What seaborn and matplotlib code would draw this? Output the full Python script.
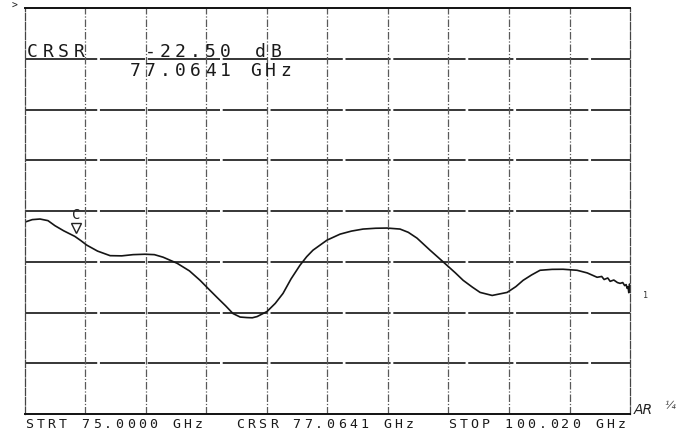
import numpy as np
import matplotlib
matplotlib.use('Agg')
import matplotlib.pyplot as plt
import seaborn as sns

# sweep settings
start_ghz = 75.0
stop_ghz = 100.02
ref_db = 0.0
db_per_div = 5.0
n_xdiv = 10
n_ydiv = 8

cursor_ghz = 77.0641
cursor_db = -22.50

# traced trace (frequency in GHz, magnitude in dB)
freq = [75.00, 75.30, 75.62, 75.95, 76.24, 76.60, 77.06, 77.30, 77.56, 78.00,
        78.52, 79.00, 79.47, 79.96, 80.35, 80.71, 81.29, 81.80, 82.24, 82.60,
        82.94, 83.30, 83.60, 83.90, 84.18, 84.40, 84.60, 85.01, 85.35, 85.67,
        86.00, 86.37, 86.65, 86.91, 87.49, 88.03, 88.50, 88.98, 89.50, 89.97,
        90.51, 90.85, 91.21, 91.75, 92.10, 92.45, 92.80, 93.12, 93.50, 93.82,
        94.32, 94.94, 95.30, 95.60, 95.95, 96.30, 96.80, 97.25, 97.83, 98.25,
        98.66, 98.85, 98.95, 99.10, 99.20, 99.35, 99.50, 99.61, 99.72, 99.80,
        99.86, 99.90, 99.94, 99.97, 100.00, 100.02]
mag_db = [-21.09, -20.85, -20.79, -20.95, -21.45, -21.95, -22.50, -22.90, -23.37, -23.95,
          -24.40, -24.42, -24.30, -24.26, -24.30, -24.55, -25.15, -25.90, -26.83, -27.70,
          -28.51, -29.35, -30.10, -30.45, -30.50, -30.52, -30.40, -29.90, -29.10, -28.12,
          -26.70, -25.35, -24.50, -23.86, -22.87, -22.28, -21.98, -21.78, -21.70, -21.68,
          -21.78, -22.10, -22.67, -23.86, -24.60, -25.35, -26.10, -26.83, -27.50, -28.02,
          -28.32, -28.02, -27.45, -26.83, -26.30, -25.84, -25.75, -25.74, -25.84, -26.10,
          -26.53, -26.45, -26.75, -26.60, -26.93, -26.80, -27.05, -27.13, -27.05, -27.35,
          -27.25, -27.62, -27.45, -28.05, -27.20, -27.40]

top_label = 'CRSR'
top_value = '-22.50'
top_unit = 'dB'
top_freq = '77.0641 GHz'
bottom_labels = ['STRT 75.0000 GHz', 'CRSR 77.0641 GHz', 'STOP 100.020 GHz']

W, H = 691, 431
sns.set_theme(style='white')
plt.rcParams['font.family'] = ['DejaVu Sans Mono', 'DejaVu Sans']

fig = plt.figure(figsize=(W / 100, H / 100), dpi=100)
fig.patch.set_facecolor('white')
ax = fig.add_axes([25 / W, 1 - 415 / H, 605 / W, 406 / H])
ax.set_facecolor('white')

bottom_db = ref_db - n_ydiv * db_per_div
ax.set_xlim(start_ghz, stop_ghz)
ax.set_ylim(bottom_db, ref_db)
ax.set_xticks(np.linspace(start_ghz, stop_ghz, n_xdiv + 1))
ax.set_yticks(np.linspace(bottom_db, ref_db, n_ydiv + 1))
ax.set_xticklabels([])
ax.set_yticklabels([])
ax.tick_params(length=0)

# plotter grid: horizontals darker, verticals faint dashed
for y in np.linspace(bottom_db, ref_db, n_ydiv + 1)[1:-1]:
    ax.axhline(y, color='#262626', lw=1.3, dashes=(40, 1.5, 25, 1.5))
for x in np.linspace(start_ghz, stop_ghz, n_xdiv + 1)[1:-1]:
    ax.axvline(x, color='#5a5a5a', lw=0.9, dashes=(6, 1.5, 1, 1.5))

for side in ['left', 'right']:
    ax.spines[side].set_color('#444444')
    ax.spines[side].set_linewidth(0.9)
    ax.spines[side].set_linestyle((0, (6, 1.5)))
for side in ['top', 'bottom']:
    ax.spines[side].set_color('#111111')
    ax.spines[side].set_linewidth(1.4)

sns.lineplot(x=freq, y=mag_db, ax=ax, color='#151515', lw=1.2, sort=False,
             estimator=None)

# cursor marker: open triangle sitting on the trace with a C above it
ax.plot([cursor_ghz + 0.05], [cursor_db], marker='v', ms=7, mfc='none',
        mec='#222222', mew=1.0, ls='none')
ax.lines[-1].set_transform(ax.transData + matplotlib.transforms.ScaledTranslation(0, 6 / 72, fig.dpi_scale_trans))
ax.annotate('C', xy=(cursor_ghz + 0.05, cursor_db), xytext=(0, 11),
            textcoords='offset points', ha='center', va='bottom',
            fontsize=10, color='#222222')


def plotter_text(x0, y0, s, pitch, size, color='#1a1a1a'):
    # the pen plotter spaces characters widely, so set each on a fixed pitch
    for i, ch in enumerate(s):
        if ch == ' ':
            continue
        fig.text((x0 + i * pitch) / W, 1 - y0 / H, ch, fontsize=size,
                 color=color, ha='left', va='baseline')


plotter_text(27, 57, top_label, 15.5, 13)
plotter_text(145, 57, top_value, 15, 13)
plotter_text(255, 57, top_unit, 15, 13)
plotter_text(130, 76, top_freq, 15, 13)

for x0, s in zip([25, 236, 448], bottom_labels):
    plotter_text(x0, 428, s, 11.3, 9.5)

fig.text(12 / W, 1 - 9 / H, '>', fontsize=7, color='#222222', ha='left',
         va='baseline')
fig.text(643 / W, 1 - 298 / H, '1', fontsize=6, color='#333333', ha='left',
         va='baseline')
fig.text(634 / W, 1 - 414 / H, 'AR', fontsize=10, style='italic',
         family='DejaVu Sans', color='#222222', ha='left', va='baseline')
fig.text(664 / W, 1 - 408 / H, '¼', fontsize=8, style='italic',
         family='DejaVu Sans', color='#444444', ha='left', va='baseline')

fig.savefig('out.png', dpi=100, facecolor='white')
